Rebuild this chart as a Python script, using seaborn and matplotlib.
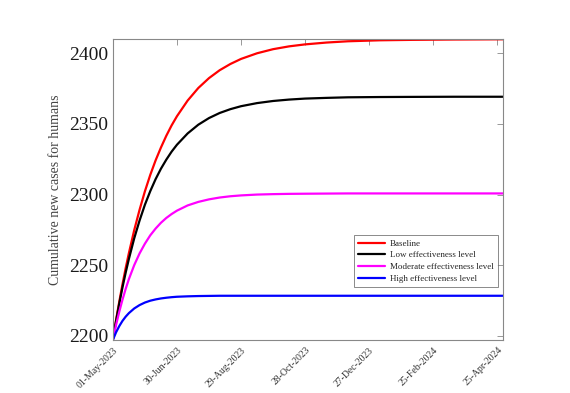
import pandas as pd
import matplotlib
matplotlib.use("Agg")
import matplotlib.pyplot as plt
import matplotlib.dates as mdates
import seaborn as sns

# values (days since 01-May-2023)
days = [0, 3, 6, 9, 12, 15, 20, 25, 30, 35, 40, 45, 50, 55, 60, 70, 80, 90,
        100, 110, 120, 135, 150, 165, 180, 200, 220, 250, 280, 320, 365]

baseline = [2197, 2211.1, 2224.1, 2236.4, 2247.9, 2258.5, 2274.8, 2289.2,
            2302.3, 2313.9, 2324.2, 2333.3, 2341.6, 2349, 2355.5, 2366.6,
            2375.5, 2382.5, 2388.1, 2392.5, 2396.1, 2400.1, 2403, 2405,
            2406.4, 2407.7, 2408.6, 2409.3, 2409.6, 2409.85, 2410]
low_eff = [2197, 2210.4, 2222.8, 2234.2, 2244.7, 2254.4, 2269, 2281.6,
           2292.8, 2302.4, 2310.9, 2318.3, 2324.7, 2330.4, 2335.3, 2343.3,
           2349.5, 2354.2, 2357.8, 2360.5, 2362.6, 2364.8, 2366.3, 2367.3,
           2368, 2368.5, 2368.9, 2369.1, 2369.2, 2369.3, 2369.3]
moderate_eff = [2197, 2207.6, 2217, 2225.5, 2233.2, 2240.1, 2250, 2258.3,
                2265.2, 2271.1, 2275.9, 2280, 2283.4, 2286.2, 2288.6, 2292.3,
                2294.8, 2296.6, 2297.9, 2298.8, 2299.4, 2300, 2300.3, 2300.5,
                2300.6, 2300.7, 2300.8, 2300.8, 2300.8, 2300.8, 2300.8]
high_eff = [2197, 2202.4, 2206.8, 2210.5, 2213.5, 2216, 2219.3, 2221.7,
            2223.5, 2224.8, 2225.7, 2226.4, 2226.9, 2227.3, 2227.6, 2227.9,
            2228.1, 2228.2, 2228.3, 2228.3, 2228.3, 2228.3, 2228.3, 2228.3,
            2228.3, 2228.3, 2228.3, 2228.3, 2228.3, 2228.3, 2228.3]

scenarios = ["Baseline", "Low effectiveness level",
             "Moderate effectiveness level", "High effectiveness level"]
colors = ["#ff0000", "#000000", "#ff00ff", "#0000ff"]

start = pd.Timestamp("2023-05-01")
dates = [start + pd.Timedelta(days=d) for d in days]

df = pd.concat([
    pd.DataFrame({"date": dates, "cases": vals, "scenario": name})
    for name, vals in zip(scenarios, [baseline, low_eff, moderate_eff, high_eff])
])

sns.set_style("white")
plt.rcParams["font.family"] = ["Liberation Serif", "DejaVu Serif"]

fig = plt.figure(figsize=(5.7, 3.93), dpi=100)
ax = fig.add_axes([0.198, 0.135, 0.684, 0.765])

sns.lineplot(data=df, x="date", y="cases", hue="scenario",
             palette=dict(zip(scenarios, colors)), linewidth=1.6, ax=ax)

ax.set_xlim(start, start + pd.Timedelta(days=365))
ax.set_ylim(2197, 2410)
ax.set_yticks([2200, 2250, 2300, 2350, 2400])
tick_dates = [start + pd.Timedelta(days=60 * i) for i in range(7)]
ax.set_xticks(tick_dates)
ax.xaxis.set_major_formatter(mdates.DateFormatter("%d-%b-%Y"))
plt.setp(ax.get_xticklabels(), rotation=45, ha="right",
         rotation_mode="anchor", fontsize=7, color="#333333")
ax.tick_params(axis="y", labelsize=14, colors="#1a1a1a")
ax.tick_params(direction="in", length=4, width=0.6, color="#888888",
               top=True, right=True)
ax.tick_params(axis="x", pad=4)

for sp in ax.spines.values():
    sp.set_color("#888888")
    sp.set_linewidth(0.8)

ax.set_xlabel("")
ax.set_ylabel("Cumulative new cases for humans", fontsize=10,
              color="#444444", labelpad=5)

leg = ax.legend(loc="lower right", bbox_to_anchor=(0.987, 0.176),
                borderaxespad=0, fontsize=6.5, frameon=True, fancybox=False,
                handlelength=3.0, handletextpad=0.5, labelspacing=0.38,
                borderpad=0.45)
leg.get_frame().set_edgecolor("#555555")
leg.get_frame().set_linewidth(0.6)

fig.savefig("out.png", dpi=100)
